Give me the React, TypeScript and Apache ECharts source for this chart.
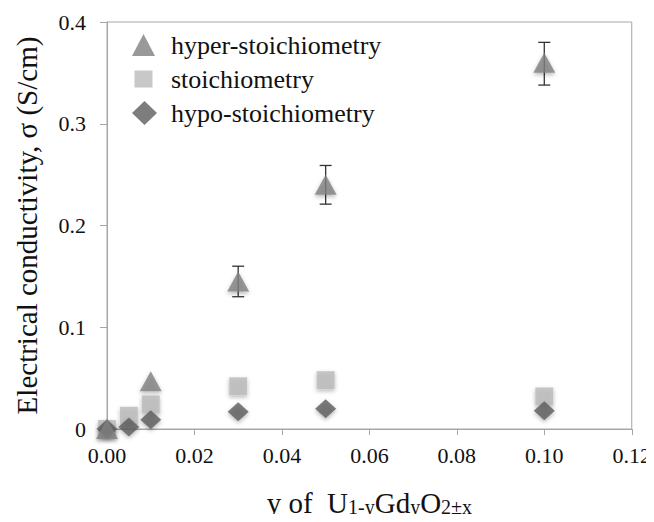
import React, { useEffect, useRef } from "react";
import * as echarts from "echarts";

const hyperX = [0, 0.01, 0.03, 0.05, 0.1];
const hyperY = [0.0, 0.047, 0.145, 0.24, 0.36];
const hyperErrLow = [null, null, 0.13, 0.221, 0.338];
const hyperErrHigh = [null, null, 0.16, 0.259, 0.38];

const stoichX = [0, 0.005, 0.01, 0.03, 0.05, 0.1];
const stoichY = [0.0, 0.013, 0.024, 0.042, 0.048, 0.032];

const hypoX = [0, 0.005, 0.01, 0.03, 0.05, 0.1];
const hypoY = [0.0, 0.002, 0.009, 0.017, 0.02, 0.018];

const seriesNames = ["hyper-stoichiometry", "stoichiometry", "hypo-stoichiometry"];

const FONT = "Liberation Serif";

export default function App() {
  const ref = useRef<HTMLDivElement>(null);
  useEffect(() => {
    if (!ref.current) return;
    const chart = echarts.init(ref.current, null, { renderer: "svg" });
    const shadow = {
      shadowBlur: 4,
      shadowColor: "rgba(0,0,0,0.35)",
      shadowOffsetY: 2,
    };
    const errData = hyperX
      .map((x, i) => [x, hyperErrLow[i], hyperErrHigh[i]])
      .filter((d) => d[1] != null);
    chart.setOption({
      animation: false,
      backgroundColor: "#ffffff",
      textStyle: { fontFamily: FONT },
      grid: {
        left: 107,
        right: 17,
        top: 22,
        bottom: 85,
        show: true,
        borderColor: "#a6a6a6",
        borderWidth: 1,
      },
      legend: {
        orient: "vertical",
        left: 127,
        top: 27,
        itemGap: 8,
        itemWidth: 34,
        itemHeight: 24,
        data: [
          { name: seriesNames[0], icon: "path://M0,0M34,24M11.5,1L23,23L0,23Z", itemStyle: { shadowBlur: 0, shadowOffsetY: 0 } },
          { name: seriesNames[1], icon: "path://M0,0M34,24M2.5,3.5h18v17h-18Z", itemStyle: { shadowBlur: 0, shadowOffsetY: 0 } },
          { name: seriesNames[2], icon: "path://M0,0M34,24M12.5,0L25,12L12.5,24L0,12Z", itemStyle: { shadowBlur: 0, shadowOffsetY: 0 } },
        ],
        textStyle: { fontFamily: FONT, fontSize: 26, color: "#111" },
      },
      xAxis: {
        type: "value",
        min: 0,
        max: 0.12,
        interval: 0.02,
        splitLine: { show: false },
        axisLine: { onZero: false, lineStyle: { color: "#a6a6a6" } },
        axisTick: { show: true, length: 6, lineStyle: { color: "#a6a6a6" } },
        axisLabel: {
          fontFamily: FONT,
          fontSize: 22,
          color: "#111",
          margin: 15,
          formatter: (v: number) => v.toFixed(2),
        },
        name: "{a|y of  U}{s|1-y}{a|Gd}{s|y}{a|O}{s|2±x}",
        nameLocation: "middle",
        nameGap: 58,
        nameTextStyle: {
          fontFamily: FONT,
          rich: {
            a: { fontFamily: FONT, fontSize: 29, color: "#111", lineHeight: 30, verticalAlign: "bottom" },
            s: { fontFamily: FONT, fontSize: 20, color: "#111", lineHeight: 4, verticalAlign: "bottom" },
          },
        },
      },
      yAxis: {
        type: "value",
        min: 0,
        max: 0.4,
        interval: 0.1,
        splitLine: { show: false },
        axisLine: { show: true, lineStyle: { color: "#a6a6a6" } },
        axisTick: { show: true, length: 7, lineStyle: { color: "#a6a6a6" } },
        axisLabel: {
          fontFamily: FONT,
          fontSize: 22,
          color: "#111",
          margin: 21,
          formatter: (v: number) => (v === 0 ? "0" : v.toFixed(1)),
        },
        name: "Electrical conductivity, σ (S/cm)",
        nameLocation: "middle",
        nameGap: 66,
        nameTextStyle: { fontFamily: FONT, fontSize: 29, color: "#111" },
      },
      series: [
        {
          name: seriesNames[1],
          type: "scatter",
          symbol: "rect",
          symbolSize: 18,
          data: stoichX.map((x, i) => [x, stoichY[i]]),
          itemStyle: { color: "#bababa", ...shadow },
          z: 2,
        },
        {
          name: seriesNames[2],
          type: "scatter",
          symbol: "diamond",
          symbolSize: [21, 19],
          data: hypoX.map((x, i) => [x, hypoY[i]]),
          itemStyle: { color: "#5c5c5c", ...shadow },
          z: 3,
        },
        {
          type: "custom",
          renderItem: (params: any, api: any) => {
            const x = api.value(0);
            const lo = api.coord([x, api.value(1)]);
            const hi = api.coord([x, api.value(2)]);
            const w = 6;
            const style = { stroke: "#333", lineWidth: 1.3 };
            return {
              type: "group",
              children: [
                { type: "line", shape: { x1: lo[0], y1: lo[1], x2: hi[0], y2: hi[1] }, style },
                { type: "line", shape: { x1: lo[0] - w, y1: lo[1], x2: lo[0] + w, y2: lo[1] }, style },
                { type: "line", shape: { x1: hi[0] - w, y1: hi[1], x2: hi[0] + w, y2: hi[1] }, style },
              ],
            };
          },
          data: errData,
          encode: { x: 0, y: [1, 2] },
          z: 4,
        },
        {
          name: seriesNames[0],
          type: "scatter",
          symbol: "triangle",
          symbolSize: [22, 20],
          data: hyperX.map((x, i) => [x, hyperY[i]]),
          itemStyle: { color: "#7f7f7f", ...shadow },
          z: 5,
        },
      ],
    });
    return () => chart.dispose();
  }, []);
  return <div ref={ref} style={{ width: 654, height: 522, margin: -8 }} />;
}
